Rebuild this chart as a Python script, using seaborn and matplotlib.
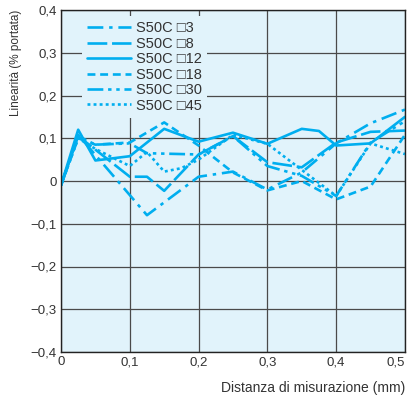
import matplotlib
matplotlib.use("Agg")
import matplotlib.pyplot as plt
import seaborn as sns
import pandas as pd

# Linearity curves (% of range) versus measuring distance (mm)
labels = ["S50C \u25a13", "S50C \u25a18", "S50C \u25a112",
          "S50C \u25a118", "S50C \u25a130", "S50C \u25a145"]

x_3 = [0, 0.025, 0.125, 0.2, 0.25, 0.3, 0.35, 0.4, 0.45, 0.5]
y_3 = [-0.01, 0.108, -0.08, 0.01, 0.022, -0.02, 0.02, 0.088, 0.135, 0.167]

x_8 = [0, 0.025, 0.1, 0.125, 0.15, 0.2, 0.25, 0.3, 0.35, 0.4, 0.45, 0.5]
y_8 = [-0.01, 0.105, 0.01, 0.01, -0.023, 0.062, 0.105, 0.044, 0.032, 0.09, 0.115, 0.118]

x_12 = [0, 0.025, 0.05, 0.1, 0.15, 0.2, 0.25, 0.3, 0.35, 0.375, 0.4, 0.45, 0.5]
y_12 = [-0.01, 0.12, 0.048, 0.058, 0.122, 0.092, 0.113, 0.087, 0.122, 0.117, 0.083, 0.088, 0.15]

x_18 = [0, 0.025, 0.05, 0.1, 0.15, 0.2, 0.25, 0.3, 0.35, 0.4, 0.45, 0.5]
y_18 = [-0.01, 0.1, 0.085, 0.09, 0.137, 0.083, 0.02, -0.022, 0.0, -0.043, -0.013, 0.108]

x_30 = [0, 0.025, 0.05, 0.1, 0.125, 0.2, 0.25, 0.3, 0.35, 0.4, 0.45, 0.5]
y_30 = [-0.01, 0.105, 0.085, 0.088, 0.065, 0.062, 0.105, 0.035, 0.012, -0.035, 0.09, 0.14]

x_45 = [0, 0.025, 0.05, 0.1, 0.125, 0.15, 0.175, 0.2, 0.25, 0.3, 0.4, 0.45, 0.5]
y_45 = [-0.01, 0.1, 0.075, 0.035, 0.068, 0.022, 0.03, 0.05, 0.108, 0.087, -0.035, 0.088, 0.063]

xs = [x_3, x_8, x_12, x_18, x_30, x_45]
ys = [y_3, y_8, y_12, y_18, y_30, y_45]

x_ticks = [0, 0.1, 0.2, 0.3, 0.4, 0.5]
x_ticklabels = ["0", "0,1", "0,2", "0,3", "0,4", "0,5"]
y_ticks = [0.4, 0.3, 0.2, 0.1, 0, -0.1, -0.2, -0.3, -0.4]
y_ticklabels = ["0,4", "0,3", "0,2", "0,1", "0",
                "\u22120,1", "\u22120,2", "\u22120,3", "\u22120,4"]

rows = []
for lab, xv, yv in zip(labels, xs, ys):
    for a, b in zip(xv, yv):
        rows.append({"dist": a, "lin": b, "serie": lab})
df = pd.DataFrame(rows)

sns.set_style("white")
plt.rcParams["font.family"] = ["Liberation Sans", "DejaVu Sans"]

line_color = "#00aeef"
text_color = "#333333"
bg_color = "#e1f3fb"
dash_styles = [
    (6, 2.2, 1.3, 2.2),            # dash-dot
    (7.5, 1.8),                    # long dash
    "",                            # solid
    (3, 1.8),                      # short dash
    (6, 1.8, 1.3, 1.8, 1.3, 1.8),  # dash-dot-dot
    (1.1, 1.2),                    # dotted
]

fig = plt.figure(figsize=(4.08, 4.0), dpi=100)
ax = fig.add_axes([0.1495, 0.12, 0.843, 0.855])
ax.set_facecolor(bg_color)

sns.lineplot(data=df, x="dist", y="lin", style="serie", style_order=labels,
             dashes=dash_styles, color=line_color, linewidth=1.9,
             sort=False, estimator=None, ax=ax)

ax.set_xlim(0, 0.5)
ax.set_ylim(-0.4, 0.4)
ax.set_xticks(x_ticks)
ax.set_xticklabels(x_ticklabels)
ax.set_yticks(y_ticks)
ax.set_yticklabels(y_ticklabels)
ax.tick_params(axis="both", length=0, labelsize=9.5, colors=text_color, pad=3)
ax.get_xticklabels()[-1].set_horizontalalignment("right")
ax.grid(True, color="#4a4a4a", linewidth=0.9)
ax.set_axisbelow(True)
for sp in ax.spines.values():
    sp.set_color("#222222")
    sp.set_linewidth(1.0)

ax.set_xlabel("Distanza di misurazione (mm)", loc="right", fontsize=10,
              color=text_color, labelpad=9)
ax.set_ylabel("Linearità (% portata)", loc="top", fontsize=8.5,
              color=text_color, labelpad=6)

handles, _ = ax.get_legend_handles_labels()
leg = ax.legend(handles, labels, loc="upper left", bbox_to_anchor=(0.061, 0.982),
                borderaxespad=0, frameon=True, fontsize=10.5, handlelength=3.0,
                handletextpad=0.35, labelspacing=0.1, borderpad=0.35,
                labelcolor=text_color)
leg.get_frame().set_facecolor(bg_color)
leg.get_frame().set_edgecolor("none")
leg.get_frame().set_alpha(1)
leg.get_frame().set_boxstyle("square", pad=0)
leg.set_zorder(5)

fig.savefig("out.png", dpi=100)
